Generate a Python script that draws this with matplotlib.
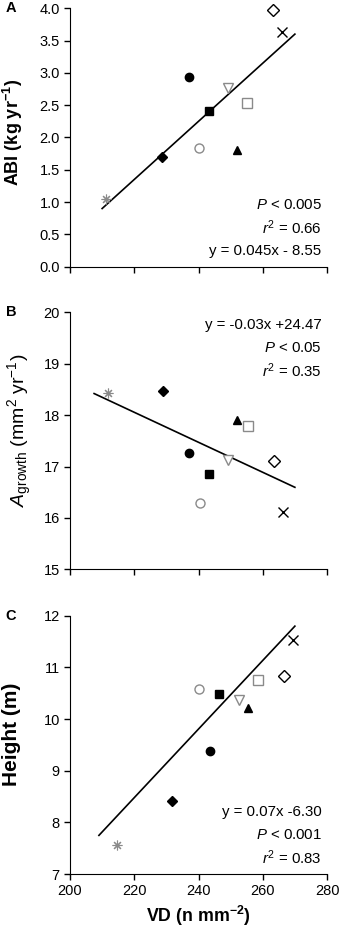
import matplotlib.pyplot as plt
import numpy as np

plt.rcParams['font.family'] = ['Liberation Sans', 'DejaVu Sans']
plt.rcParams['mathtext.fontset'] = 'custom'
plt.rcParams['mathtext.rm'] = 'Liberation Sans'
plt.rcParams['mathtext.it'] = 'Liberation Sans:italic'
plt.rcParams['mathtext.bf'] = 'Liberation Sans:bold'

# point order: asterisk, filled diamond, filled circle, open circle, filled square,
# open down triangle, filled triangle, open square, open diamond, cross
vd_a = [211.2, 228.7, 237.0, 240.3, 243.2, 249.2, 252.1, 255.2, 263.1, 266.0]
abi = [1.04, 1.70, 2.94, 1.83, 2.41, 2.76, 1.81, 2.54, 3.97, 3.64]

vd_b = [211.9, 229.0, 237.1, 240.5, 243.2, 249.2, 252.1, 255.4, 263.4, 266.2]
agrowth = [18.44, 18.48, 17.26, 16.30, 16.85, 17.13, 17.91, 17.78, 17.11, 16.12]

vd_c = [214.6, 231.9, 243.5, 240.2, 246.4, 252.5, 255.3, 258.6, 266.7, 269.5]
height = [7.56, 8.41, 9.38, 10.59, 10.48, 10.37, 10.21, 10.75, 10.84, 11.52]

# regression lines: slope, intercept, x start, x end
fit_a = (0.045, -8.55, 210, 270)
fit_b = (-0.0292, 24.48, 207.5, 270)
fit_c = (0.0664, -6.13, 209, 270)

GRAY = '#8a8a8a'
markers = [(8, 2, 0), 'D', 'o', 'o', 's', 'v', '^', 's', 'D', 'x']
faces = ['none', 'k', 'k', 'white', 'k', 'white', 'k', 'white', 'white', 'none']
edges = [GRAY, 'k', 'k', GRAY, 'k', GRAY, 'k', GRAY, 'k', 'k']
sizes = [7, 5.2, 6, 6.5, 6, 6.5, 6, 6.5, 5.8, 7]


def panel(ax, x, y, fit, ylim, yticks, fmt, ylabel, label_pos, label_size, notes, note_y, letter):
    for xi, yi, m, fc, ec, s in zip(x, y, markers, faces, edges, sizes):
        ax.plot([xi], [yi], linestyle='none', marker=m, markersize=s,
                markerfacecolor=fc, markeredgecolor=ec,
                markeredgewidth=0.8 if m == (8, 2, 0) else 1, zorder=3, clip_on=False)
    slope, icpt, x0, x1 = fit
    xs = np.array([x0, x1])
    ax.plot(xs, slope * xs + icpt, color='k', linewidth=1.2, zorder=2)

    ax.set_xlim(200, 280)
    ax.set_ylim(*ylim)
    ax.set_xticks([200, 220, 240, 260, 280])
    ax.set_yticks(yticks)
    ax.set_yticklabels([fmt % v for v in yticks])
    ax.spines['top'].set_visible(False)
    ax.spines['right'].set_visible(False)
    ax.tick_params(direction='out', length=4.3, width=1, labelsize=10.5, pad=3)
    ax.set_ylabel(ylabel, fontsize=label_size)
    ax.yaxis.set_label_coords(*label_pos)

    for t, yy in zip(notes, note_y):
        ax.text(0.979, yy, t, transform=ax.transAxes, ha='right', va='center', fontsize=10.8)

    ax.text(-0.25, 1.0, letter, transform=ax.transAxes, ha='left', va='center',
            fontsize=10.5, fontweight='bold')


fig = plt.figure(figsize=(3.41, 9.41), dpi=100)
ax_a = fig.add_axes([0.2053, 0.7166, 0.7537, 0.2746])
ax_b = fig.add_axes([0.2053, 0.395, 0.7537, 0.273])
ax_c = fig.add_axes([0.2053, 0.0712, 0.7537, 0.2745])

panel(ax_a, vd_a, abi, fit_a, (0, 4), np.arange(0, 4.01, 0.5), '%.1f',
      r'$\mathbf{ABI\ (kg\ yr^{-1})}$', (-0.175, 0.52), 13,
      [r'$P$ < 0.005', r'$r^2$ = 0.66', 'y = 0.045x - 8.55'], [0.239, 0.151, 0.062], 'A')
panel(ax_b, vd_b, agrowth, fit_b, (15, 20), [15, 16, 17, 18, 19, 20], '%d',
      r'$A_{\mathrm{growth}}$ (mm$^2$ yr$^{-1}$)', (-0.14, 0.54), 14,
      ['y = -0.03x +24.47', r'$P$ < 0.05', r'$r^2$ = 0.35'], [0.951, 0.862, 0.773], 'B')
panel(ax_c, vd_c, height, fit_c, (7, 12), [7, 8, 9, 10, 11, 12], '%d',
      'Height (m)', (-0.19, 0.54), 15,
      ['y = 0.07x -6.30', r'$P$ < 0.001', r'$r^2$ = 0.83'], [0.239, 0.151, 0.063], 'C')

ax_a.tick_params(axis='x', labelbottom=False)
ax_b.tick_params(axis='x', labelbottom=False)
ax_c.yaxis.label.set_fontweight('bold')
ax_c.set_xlabel(r'$\mathbf{VD\ (n\ mm^{-2})}$', fontsize=12.8, labelpad=4)

fig.savefig('out.png', dpi=100)
